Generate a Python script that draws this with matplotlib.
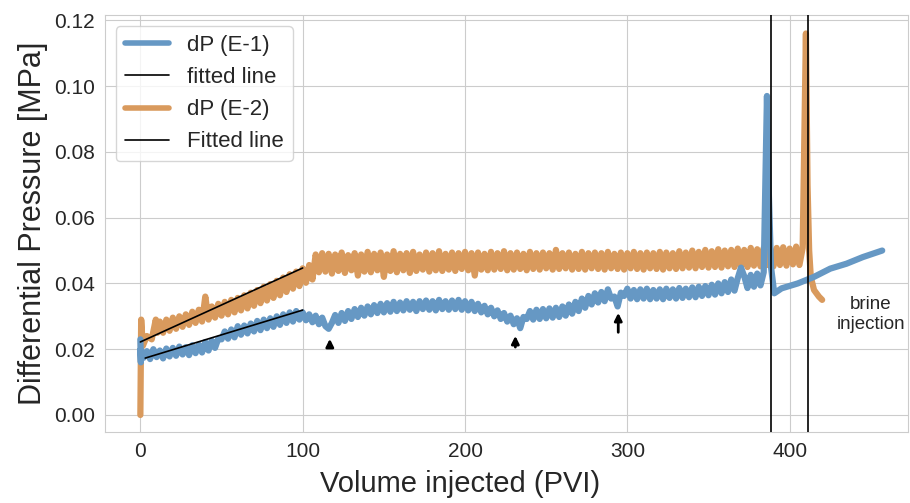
import numpy as np
import matplotlib
matplotlib.use('Agg')
import matplotlib.pyplot as plt
import seaborn as sns

sns.set_style('whitegrid')
plt.rcParams['font.family'] = ['Liberation Sans', 'DejaVu Sans']

# E-1 (blue): main part read every 2 PVI from 0 to 384
e1_start_x = [0, 0.3]
e1_start_y = [0.023, 0.016]
e1_main_y = [0.0198, 0.0174, 0.0194, 0.0170, 0.0200, 0.0176, 0.0196, 0.0172, 0.0202, 0.0178,
             0.0204, 0.0180, 0.0208, 0.0184, 0.0206, 0.0182, 0.0212, 0.0188, 0.0214, 0.0190,
             0.0222, 0.0196, 0.0226, 0.0204, 0.0232, 0.0230, 0.0254, 0.0232, 0.0260, 0.0236,
             0.0270, 0.0244, 0.0272, 0.0248, 0.0278, 0.0254, 0.0286, 0.0258, 0.0290, 0.0264,
             0.0294, 0.0268, 0.0300, 0.0274, 0.0306, 0.0280, 0.0312, 0.0284, 0.0316, 0.0290,
             0.0312, 0.0288, 0.0306, 0.0282, 0.0302, 0.0276, 0.0296, 0.0270, 0.0262, 0.0280,
             0.0304, 0.0280, 0.0310, 0.0286, 0.0316, 0.0292, 0.0322, 0.0298, 0.0326, 0.0302,
             0.0330, 0.0306, 0.0334, 0.0310, 0.0338, 0.0312, 0.0340, 0.0314, 0.0344, 0.0316,
             0.0342, 0.0318, 0.0346, 0.0320, 0.0344, 0.0316, 0.0346, 0.0322, 0.0348, 0.0320,
             0.0346, 0.0318, 0.0350, 0.0322, 0.0346, 0.0320, 0.0348, 0.0322, 0.0350, 0.0320,
             0.0346, 0.0318, 0.0344, 0.0316, 0.0338, 0.0312, 0.0332, 0.0306, 0.0326, 0.0300,
             0.0318, 0.0292, 0.0310, 0.0284, 0.0302, 0.0276, 0.0294, 0.0264, 0.0298, 0.0292,
             0.0316, 0.0290, 0.0320, 0.0292, 0.0322, 0.0294, 0.0324, 0.0296, 0.0326, 0.0298,
             0.0330, 0.0302, 0.0336, 0.0308, 0.0344, 0.0316, 0.0354, 0.0326, 0.0362, 0.0336,
             0.0370, 0.0342, 0.0374, 0.0346, 0.0382, 0.0354, 0.0360, 0.0330, 0.0372, 0.0362,
             0.0384, 0.0354, 0.0380, 0.0352, 0.0382, 0.0354, 0.0384, 0.0352, 0.0380, 0.0354,
             0.0382, 0.0352, 0.0384, 0.0356, 0.0382, 0.0354, 0.0386, 0.0356, 0.0384, 0.0358,
             0.0388, 0.0358, 0.0390, 0.0362, 0.0392, 0.0364, 0.0396, 0.0366, 0.0400, 0.0370,
             0.0404, 0.0374, 0.0412, 0.0378, 0.0416, 0.0448, 0.0422, 0.0386, 0.0426, 0.0390,
             0.0430, 0.0394, 0.0434]
e1_tail_x = [386, 387, 388.5, 390.5, 395, 405, 415, 425, 435, 445, 457]
e1_tail_y = [0.097, 0.070, 0.045, 0.037, 0.0385, 0.040, 0.042, 0.0445, 0.046, 0.048, 0.050]

# E-2 (orange): main part read every 2 PVI from 12 to 408
e2_start_x = [0, 0.5, 1.5, 4, 7, 9.5, 10.5]
e2_start_y = [0.0, 0.029, 0.021, 0.024, 0.023, 0.029, 0.025]
e2_main_y = [0.0284, 0.0250, 0.0290, 0.0256, 0.0296, 0.0262, 0.0300, 0.0268, 0.0306, 0.0274,
             0.0314, 0.0280, 0.0320, 0.0284, 0.0360, 0.0290, 0.0330, 0.0296, 0.0338, 0.0302,
             0.0344, 0.0306, 0.0350, 0.0312, 0.0356, 0.0318, 0.0364, 0.0324, 0.0372, 0.0332,
             0.0380, 0.0340, 0.0390, 0.0348, 0.0398, 0.0356, 0.0408, 0.0364, 0.0418, 0.0374,
             0.0428, 0.0384, 0.0436, 0.0392, 0.0446, 0.0402, 0.0456, 0.0412, 0.0488, 0.0434,
             0.0492, 0.0436, 0.0490, 0.0430, 0.0488, 0.0438, 0.0494, 0.0432, 0.0486, 0.0440,
             0.0492, 0.0424, 0.0488, 0.0436, 0.0496, 0.0434, 0.0490, 0.0440, 0.0494, 0.0420,
             0.0488, 0.0438, 0.0498, 0.0434, 0.0490, 0.0440, 0.0492, 0.0432, 0.0496, 0.0438,
             0.0488, 0.0442, 0.0494, 0.0436, 0.0492, 0.0440, 0.0498, 0.0438, 0.0490, 0.0442,
             0.0494, 0.0438, 0.0492, 0.0444, 0.0496, 0.0440, 0.0492, 0.0424, 0.0494, 0.0442,
             0.0490, 0.0440, 0.0496, 0.0442, 0.0492, 0.0444, 0.0498, 0.0440, 0.0492, 0.0442,
             0.0494, 0.0444, 0.0490, 0.0440, 0.0496, 0.0444, 0.0492, 0.0442, 0.0494, 0.0446,
             0.0492, 0.0442, 0.0502, 0.0444, 0.0492, 0.0446, 0.0494, 0.0442, 0.0490, 0.0444,
             0.0496, 0.0442, 0.0492, 0.0446, 0.0494, 0.0444, 0.0492, 0.0442, 0.0496, 0.0446,
             0.0490, 0.0444, 0.0494, 0.0442, 0.0492, 0.0446, 0.0496, 0.0444, 0.0492, 0.0442,
             0.0494, 0.0446, 0.0492, 0.0444, 0.0496, 0.0442, 0.0494, 0.0446, 0.0492, 0.0444,
             0.0498, 0.0446, 0.0494, 0.0448, 0.0500, 0.0446, 0.0496, 0.0450, 0.0502, 0.0448,
             0.0498, 0.0450, 0.0504, 0.0448, 0.0500, 0.0452, 0.0502, 0.0450, 0.0506, 0.0452,
             0.0502, 0.0450, 0.0508, 0.0454, 0.0504, 0.0452, 0.0508, 0.0456, 0.0504, 0.0452,
             0.0508, 0.0456, 0.0510, 0.0454, 0.0506, 0.0458, 0.0512, 0.0456, 0.0508]
e2_tail_x = [410, 411, 412, 413, 415, 418, 420]
e2_tail_y = [0.116, 0.070, 0.050, 0.042, 0.038, 0.036, 0.035]

# linear fits over the first 100 PVI
fit1_x = [3, 100]
fit1_y = [0.0173, 0.0319]
fit2_x = [0, 100]
fit2_y = [0.0222, 0.0447]

# markers
vlines_x = [388.3, 411]
arrows = [(116.7, 0.0198, 0.0240), (231, 0.0198, 0.0249), (294.4, 0.0243, 0.0319)]

e1_x = np.concatenate([e1_start_x, np.arange(len(e1_main_y)) * 2.0, e1_tail_x])
e1_y = np.concatenate([e1_start_y, e1_main_y, e1_tail_y])
e2_x = np.concatenate([e2_start_x, 12 + np.arange(len(e2_main_y)) * 2.0, e2_tail_x])
e2_y = np.concatenate([e2_start_y, e2_main_y, e2_tail_y])

blue = '#6698c4'
orange = '#d99a5d'

fig = plt.figure(figsize=(9.1, 5.03), dpi=100)
ax = fig.add_axes([0.115, 0.141, 0.883, 0.829])

l2, = ax.plot(e2_x, e2_y, color=orange, lw=4.5, solid_joinstyle='round', zorder=2)
l1, = ax.plot(e1_x, e1_y, color=blue, lw=4.5, solid_joinstyle='round', zorder=3)
f1, = ax.plot(fit1_x, fit1_y, color='k', lw=1.2, zorder=4)
f2, = ax.plot(fit2_x, fit2_y, color='k', lw=1.2, zorder=4)
for xv in vlines_x:
    ax.axvline(xv, color='k', lw=1.2, zorder=4)

for xa, y0, y1 in arrows:
    ax.annotate('', xy=(xa, y1), xytext=(xa, y0),
                arrowprops=dict(arrowstyle='-|>', color='k', lw=2, mutation_scale=11))

ax.text(450, 0.0305, 'brine\ninjection', ha='center', va='center', fontsize=13.5)

ax.set_xlim(-22, 473)
ax.set_ylim(-0.0052, 0.1216)
ax.set_xticks([0, 100, 200, 300, 400])
ax.set_yticks([0.0, 0.02, 0.04, 0.06, 0.08, 0.10, 0.12])
ax.set_yticklabels(['0.00', '0.02', '0.04', '0.06', '0.08', '0.10', '0.12'])
ax.tick_params(labelsize=15)
ax.set_xlabel('Volume injected (PVI)', fontsize=21)
ax.xaxis.set_label_coords(0.442, -0.09)
ax.set_ylabel('Differential Pressure [MPa]', fontsize=22)

leg = ax.legend([l1, f1, l2, f2], ['dP (E-1)', 'fitted line', 'dP (E-2)', 'Fitted line'],
                loc='upper left', fontsize=16, frameon=True)
for h in leg.legend_handles[::2]:
    h.set_linewidth(4)

fig.savefig('out.png', dpi=100)
